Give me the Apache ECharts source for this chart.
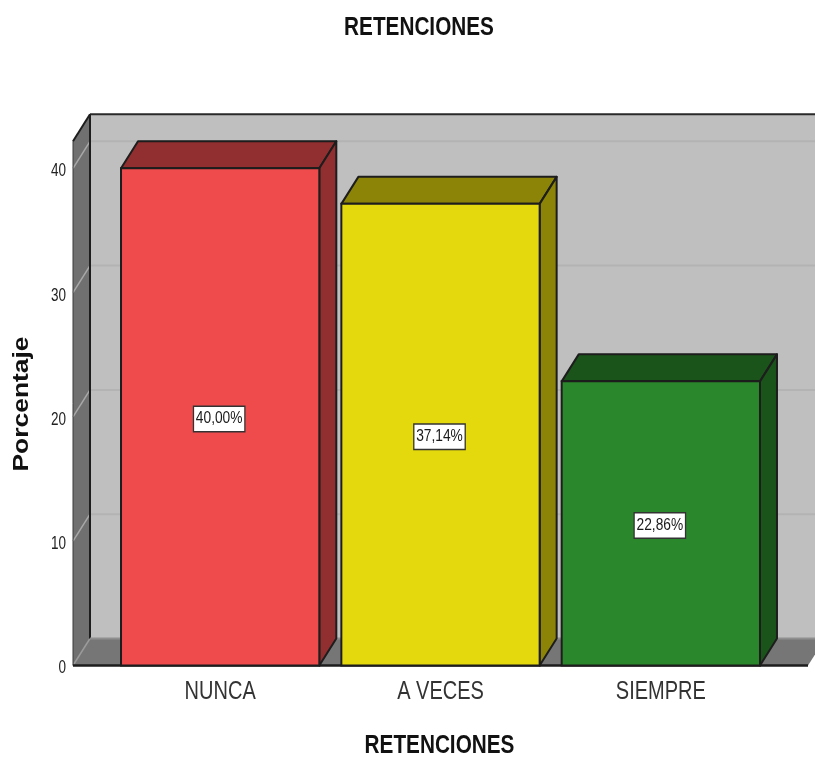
<!DOCTYPE html>
<html>
<head>
<meta charset="utf-8">
<style>html,body{margin:0;padding:0;background:#fff}#chart{width:815px;height:758px}</style>
<script src="https://cdn.jsdelivr.net/npm/echarts@6/dist/echarts.min.js"></script>
</head>
<body>
<div id="chart"></div>
<script>
// Bar values, in percent
const categories = ['NUNCA', 'A VECES', 'SIEMPRE'];
const percentages = [40.00, 37.14, 22.86];
const faceColors = ['#ef4b4d', '#e4d90d', '#2a872b'];
const shadeColors = ['#912e2f', '#8c8406', '#1a541a'];
const yTicks = [0, 10, 20, 30, 40];
const wallTopValue = 42.17;
const titleText = 'RETENCIONES';
const yAxisTitle = 'Porcentaje';

// Oblique projection used for the box depth
const DEPTH_X = 17;
const DEPTH_Y = -27;
const WALL_OVERHANG = 37;
const EDGE = '#1d1d1d';
const SANS = '"Liberation Sans", sans-serif';

function poly(points, fill, stroke, lineWidth) {
  return {
    type: 'polygon',
    shape: { points },
    style: { fill, stroke: stroke || null, lineWidth: lineWidth || 0, lineJoin: 'round' }
  };
}
function line(x1, y1, x2, y2, stroke, lineWidth) {
  return { type: 'line', shape: { x1, y1, x2, y2 }, style: { stroke, lineWidth } };
}
// Horizontally condensed label
function label(text, x, y, font, scaleX, fill, align) {
  return {
    type: 'text',
    x,
    y,
    scaleX,
    style: { text, font, fill, align: align || 'center', verticalAlign: 'middle' }
  };
}

// Back wall, side wall, floor, gridlines and axis labels of the box
function renderRoom(params, api) {
  const cs = params.coordSys;
  const left = cs.x - WALL_OVERHANG;
  const right = cs.x + cs.width + WALL_OVERHANG;
  const base = api.coord([0, 0])[1];
  const top = api.coord([0, wallTopValue])[1];
  const backLeft = left + DEPTH_X;
  const children = [
    poly([[backLeft, top + DEPTH_Y], [right + DEPTH_X, top + DEPTH_Y], [right + DEPTH_X, base + DEPTH_Y], [backLeft, base + DEPTH_Y]], '#bfbfbf'),
    poly([[left, base], [backLeft, base + DEPTH_Y], [right + DEPTH_X, base + DEPTH_Y], [right, base]], '#767676'),
    poly([[left, base], [backLeft, base + DEPTH_Y], [backLeft, top + DEPTH_Y], [left, top]], '#707070')
  ];
  yTicks.forEach(function (tick) {
    const y = api.coord([0, tick])[1];
    children.push(line(left, y, backLeft, y + DEPTH_Y, tick === 0 ? '#9a9a9a' : '#a8a8a8', 1.5));
    if (tick > 0) children.push(line(backLeft, y + DEPTH_Y, right + DEPTH_X, y + DEPTH_Y, '#b3b3b3', 2));
    children.push(label(String(tick), left - 7, y + 3, '18px ' + SANS, 0.75, '#222', 'right'));
  });
  children.push(line(left, top, left, base, '#3a3a3a', 1));
  children.push(line(left, top, backLeft, top + DEPTH_Y, EDGE, 2));
  children.push(line(backLeft, top + DEPTH_Y, right + DEPTH_X, top + DEPTH_Y, '#2a2a2a', 2));
  children.push(line(backLeft, top + DEPTH_Y, backLeft, base + DEPTH_Y, EDGE, 2));
  children.push(line(backLeft, base + DEPTH_Y, right + DEPTH_X, base + DEPTH_Y, '#8f8f8f', 2));
  children.push(line(left, base, right, base, EDGE, 2.5));
  categories.forEach(function (name, i) {
    children.push(label(name, api.coord([i, 0])[0], base + 27, '25px ' + SANS, 0.8, '#333'));
  });
  return { type: 'group', children };
}

// One extruded bar with its boxed value label
function renderBar(params, api) {
  const i = api.value(0);
  const value = api.value(1);
  const [cx, yTop] = api.coord([i, value]);
  const yBase = api.coord([i, 0])[1];
  const w = api.size([1, 0])[0] * 0.9;
  const x0 = cx - w / 2;
  const x1 = cx + w / 2;
  return {
    type: 'group',
    children: [
      poly([[x0, yTop], [x0 + DEPTH_X, yTop + DEPTH_Y], [x1 + DEPTH_X, yTop + DEPTH_Y], [x1, yTop]], shadeColors[i], EDGE, 2),
      poly([[x1, yTop], [x1 + DEPTH_X, yTop + DEPTH_Y], [x1 + DEPTH_X, yBase + DEPTH_Y], [x1, yBase]], shadeColors[i], EDGE, 2),
      { type: 'rect', shape: { x: x0, y: yTop, width: w, height: yBase - yTop }, style: { fill: faceColors[i], stroke: EDGE, lineWidth: 2 } },
      {
        type: 'text',
        x: cx - 1,
        y: (yTop + yBase) / 2 + 2,
        scaleX: 0.86,
        style: {
          text: value.toFixed(2).replace('.', ',') + '%',
          fill: '#1a1a1a',
          font: '16px ' + SANS,
          align: 'center',
          verticalAlign: 'middle',
          backgroundColor: '#fff',
          borderColor: '#333',
          borderWidth: 1.5,
          padding: [4, 2, 4, 2]
        }
      }
    ]
  };
}

const chart = echarts.init(document.getElementById('chart'), null, { renderer: 'canvas' });
chart.setOption({
  animation: false,
  backgroundColor: '#fff',
  grid: { left: 110, right: 44, top: 44, bottom: 92.5, outerBoundsMode: 'none' },
  xAxis: {
    type: 'category',
    data: categories,
    axisLine: { show: false },
    axisTick: { show: false },
    axisLabel: { show: false }
  },
  yAxis: {
    type: 'value',
    min: 0,
    max: 50,
    interval: 10,
    axisLine: { show: false },
    axisTick: { show: false },
    splitLine: { show: false },
    axisLabel: { show: false }
  },
  graphic: [
    { type: 'text', x: 419, y: 28, scaleX: 0.83, z: 10, style: { text: titleText, font: 'bold 25px ' + SANS, fill: '#111', align: 'center', verticalAlign: 'middle' } },
    { type: 'text', x: 439.5, y: 746, scaleX: 0.83, z: 10, style: { text: titleText, font: 'bold 25px ' + SANS, fill: '#111', align: 'center', verticalAlign: 'middle' } },
    { type: 'text', x: 22, y: 404, rotation: Math.PI / 2, scaleX: 1.2, z: 10, style: { text: yAxisTitle, font: 'bold 22px ' + SANS, fill: '#111', align: 'center', verticalAlign: 'middle' } }
  ],
  series: [
    { type: 'custom', silent: true, z: 1, renderItem: renderRoom, data: [[0, wallTopValue]], encode: { x: 0, y: 1 } },
    {
      type: 'custom',
      silent: true,
      z: 2,
      renderItem: renderBar,
      data: percentages.map(function (v, i) { return [i, v]; }),
      encode: { x: 0, y: 1 }
    }
  ]
});
</script>
</body>
</html>
